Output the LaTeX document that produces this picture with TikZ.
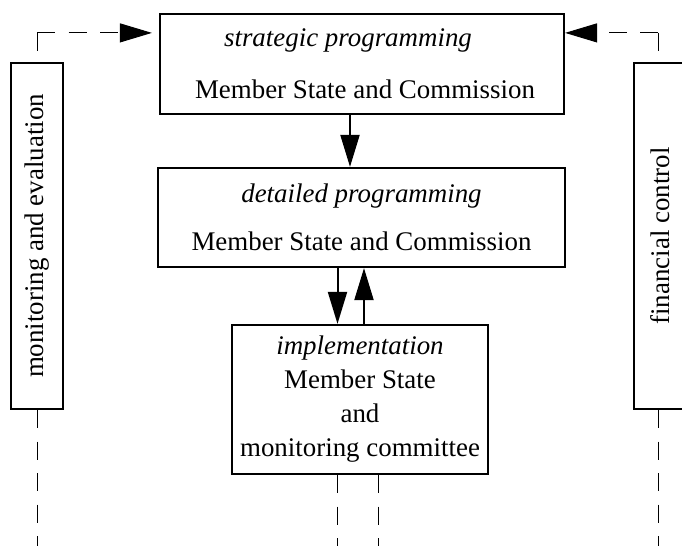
\documentclass[tikz,border=0pt]{standalone}
\usepackage{fontspec}
\setmainfont{Liberation Serif}
\usetikzlibrary{arrows.meta}

\begin{document}
\begin{tikzpicture}[x=0.5pt, y=-0.5pt,
  >={Triangle[length=16pt, width=9.5pt]},
  stage/.style={draw, line width=1.1pt, align=center, inner sep=0pt,
    font=\fontsize{13.45pt}{26pt}\selectfont},
  side/.style={draw, line width=1.1pt, rotate=90, inner sep=0pt,
    minimum width=173pt, minimum height=26pt,
    font=\fontsize{13.45pt}{16pt}\selectfont},
  flow/.style={line width=1pt, ->},
  feedback/.style={line width=0.5pt, dash pattern=on 9pt off 6.75pt}]
%\draw[help lines] (0,0) grid[step=50] (682,546);
\useasboundingbox (0,0) rectangle (682,546);
\clip (0,0) rectangle (682,546);

\node[stage, minimum width=202pt, minimum height=50pt] (strat) at (362,64)
  {\textit{strategic programming}\hspace*{14pt}\\\hspace*{3pt}Member State and Commission};
\node[stage, minimum width=203.5pt, minimum height=49.5pt] (detail) at (361.5,217.5)
  {\textit{detailed programming}\\[-2pt]Member State and Commission};
\node[stage, minimum width=128pt, minimum height=74.5pt,
  font=\fontsize{13.45pt}{17pt}\selectfont] (impl) at (360,399.5)
  {\textit{implementation}\\Member State\\and\\monitoring committee};

\node[side] (mon) at (37,236) {monitoring and evaluation};
\node[side] (fin) at (660,236) {financial control};

\draw[flow] ([xshift=-6pt]strat.south) -- ([xshift=-6pt]strat.south |- detail.north);
\draw[flow] ([xshift=-12pt]detail.south) -- ([xshift=-12pt]detail.south |- impl.north);
\draw[flow] ([xshift=2pt]impl.north) -- ([xshift=2pt]impl.north |- detail.south);

\coordinate (stratLeft) at ([yshift=-10pt]strat.north west);
\coordinate (stratRight) at ([yshift=-10pt]strat.north east);
\coordinate (monTurn) at (mon.east |- stratLeft);
\coordinate (finTurn) at ([xshift=-1pt]fin.east |- stratRight);
\draw[feedback] (monTurn) -- (mon.east);
\draw[feedback, ->, shorten >=3.5pt] (monTurn) -- (stratLeft);
\draw[feedback] (finTurn) -- ([xshift=-1pt]fin.east);
\draw[feedback, ->] (finTurn) -- (stratRight);

\coordinate (monEnd) at (mon.west |- 0,546);
\coordinate (finEnd) at ([xshift=-1pt]fin.west |- 0,546);
\coordinate (implOut) at ([xshift=-11.5pt]impl.south);
\coordinate (implIn) at ([xshift=9pt]impl.south);
\draw[feedback] (mon.west) -- (monEnd);
\draw[feedback] ([xshift=-1pt]fin.west) -- (finEnd);
\draw[feedback] (implOut) -- (implOut |- 0,546);
\draw[feedback] (implIn) -- (implIn |- 0,546);
\end{tikzpicture}
\end{document}
